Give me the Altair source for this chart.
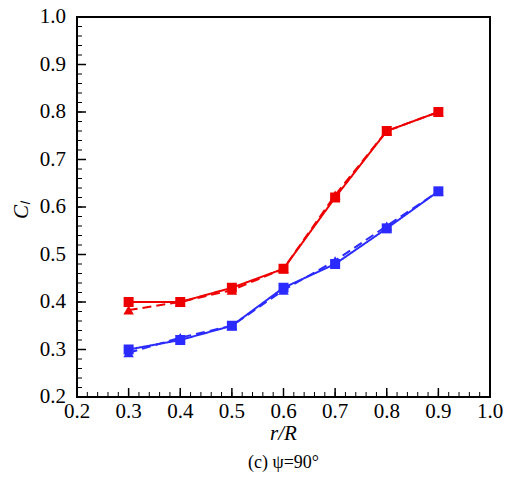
import altair as alt
import pandas as pd

r_over_R = [0.3, 0.4, 0.5, 0.6, 0.7, 0.8, 0.9]
lower_with = [0.40, 0.40, 0.43, 0.47, 0.62, 0.76, 0.80]
lower_without = [0.383, 0.40, 0.425, 0.47, 0.625, 0.76, 0.80]
upper_with = [0.30, 0.32, 0.35, 0.43, 0.48, 0.555, 0.633]
upper_without = [0.293, 0.325, 0.35, 0.425, 0.487, 0.56, 0.633]

series_names = ["Lower with fuselage", "Lower without fuselage",
                "Upper with fuselage", "Upper without fuselage"]
series_values = [lower_with, lower_without, upper_with, upper_without]
series_colors = ["#ee0000", "#ee0000", "#2b2bff", "#2b2bff"]
series_markers = ["square", "triangle", "square", "triangle"]
series_dash = [[1, 0], [9, 5], [1, 0], [9, 5]]

major_ticks = [0.2, 0.3, 0.4, 0.5, 0.6, 0.7, 0.8, 0.9, 1.0]
tick_labels = ["0.2", "0.3", "0.4", "0.5", "0.6", "0.7", "0.8", "0.9", "1.0"]
minor_ticks = [round(0.2 + 0.02 * i, 2) for i in range(41)]
frame_x = [0.2, 1.0, 1.0, 0.2, 0.2]
frame_y = [0.2, 0.2, 1.0, 1.0, 0.2]
x_title = "r/R"
y_title = "Cₗ"
caption = "(c) ψ=90°"

rows = []
for name, vals, mk in zip(series_names, series_values, series_markers):
    for x, y in zip(r_over_R, vals):
        rows.append({"r": x, "C": y, "series": name, "marker": mk})
df = pd.DataFrame(rows)
major_df = pd.DataFrame({"v": major_ticks, "series": "axis"})
minor_df = pd.DataFrame({"v": minor_ticks, "series": "axis"})
label_df = pd.DataFrame({"v": major_ticks, "label": tick_labels})
frame_df = pd.DataFrame({"r": frame_x, "C": frame_y, "idx": list(range(5)), "series": "axis"})

W, H = 413, 380
xs = alt.Scale(domain=[0.2, 1.0], nice=False, zero=False)
ys = alt.Scale(domain=[0.2, 1.0], nice=False, zero=False)
font = "Liberation Serif"
all_names = series_names + ["axis"]
color_scale = alt.Scale(domain=all_names, range=series_colors + ["black"])
dash_scale = alt.Scale(domain=all_names, range=series_dash + [[1, 0]])

X = alt.X("r:Q", scale=xs, axis=None)
Y = alt.Y("C:Q", scale=ys, axis=None)
AXC = alt.Color("series:N", scale=color_scale, legend=None)

# plot frame drawn through the scales
frame = alt.Chart(frame_df).mark_line(strokeWidth=2).encode(
    x=X, y=Y, color=AXC, order=alt.Order("idx:Q"))

# inward ticks on the left and bottom edges
y_minor = alt.Chart(minor_df).mark_rule(strokeWidth=1).encode(
    y=alt.Y("v:Q", scale=ys, axis=None), x=alt.value(0), x2=alt.value(5), color=AXC)
y_major = alt.Chart(major_df).mark_rule(strokeWidth=1.5).encode(
    y=alt.Y("v:Q", scale=ys, axis=None), x=alt.value(0), x2=alt.value(9), color=AXC)
x_minor = alt.Chart(minor_df).mark_rule(strokeWidth=1).encode(
    x=alt.X("v:Q", scale=xs, axis=None), y=alt.value(H), y2=alt.value(H - 5), color=AXC)
x_major = alt.Chart(major_df).mark_rule(strokeWidth=1.5).encode(
    x=alt.X("v:Q", scale=xs, axis=None), y=alt.value(H), y2=alt.value(H - 9), color=AXC)

leg = dict(title=None, orient="none", legendX=45, legendY=18, padding=0,
           values=series_names, symbolType="M-3.15,0H3.15", symbolSize=400,
           symbolStrokeWidth=2, labelOffset=30, labelFont=font, labelFontSize=21,
           labelColor="black", rowPadding=3, labelLimit=400)

lines = alt.Chart(df).mark_line(strokeWidth=2).encode(
    x=X, y=Y,
    color=alt.Color("series:N", scale=color_scale, legend=alt.Legend(**leg)),
    strokeDash=alt.StrokeDash("series:N", scale=dash_scale, legend=alt.Legend(**leg)),
    order=alt.Order("series:N", sort="descending"),
)

squares = alt.Chart(df).transform_filter("datum.marker == 'square'").mark_point(
    filled=True, size=100, opacity=1, shape="square").encode(x=X, y=Y, color=AXC)

triangles = alt.Chart(df).transform_filter("datum.marker == 'triangle'").mark_point(
    filled=True, size=110, opacity=1, shape="triangle-up").encode(x=X, y=Y, color=AXC)

# tick labels placed through the scales
x_labels = alt.Chart(label_df).mark_text(
    font=font, fontSize=21, color="black", baseline="middle", align="center").encode(
    x=alt.X("v:Q", scale=xs, axis=None), y=alt.value(H + 15), text="label:N")
y_labels = alt.Chart(label_df).mark_text(
    font=font, fontSize=21, color="black", baseline="middle", align="right").encode(
    y=alt.Y("v:Q", scale=ys, axis=None), x=alt.value(-11), text="label:N")

x_title_mark = alt.Chart(pd.DataFrame({"t": [x_title]})).mark_text(
    font=font, fontSize=21, fontStyle="italic", color="black", baseline="middle", align="center").encode(
    x=alt.value(W / 2), y=alt.value(H + 37), text="t:N")
y_title_mark = alt.Chart(pd.DataFrame({"t": [y_title]})).mark_text(
    font=font, fontSize=21, fontStyle="italic", color="black", baseline="middle", align="center",
    angle=270).encode(
    x=alt.value(-55), y=alt.value(H / 2 + 3), text="t:N")

chart = alt.layer(frame, y_minor, y_major, x_minor, x_major, lines, squares, triangles,
                  x_labels, y_labels, x_title_mark, y_title_mark).properties(
    width=W, height=H,
    autosize=alt.AutoSizeParams(type="none"),
    padding={"left": 77, "top": 17, "right": 18, "bottom": 91},
    title=alt.TitleParams(caption, orient="bottom", anchor="middle",
                          font=font, fontSize=18, fontWeight="normal", color="black", offset=10),
).configure_view(
    stroke="black", strokeWidth=2
)

chart.save("out.html", embed_options={"renderer": "svg", "actions": False})
